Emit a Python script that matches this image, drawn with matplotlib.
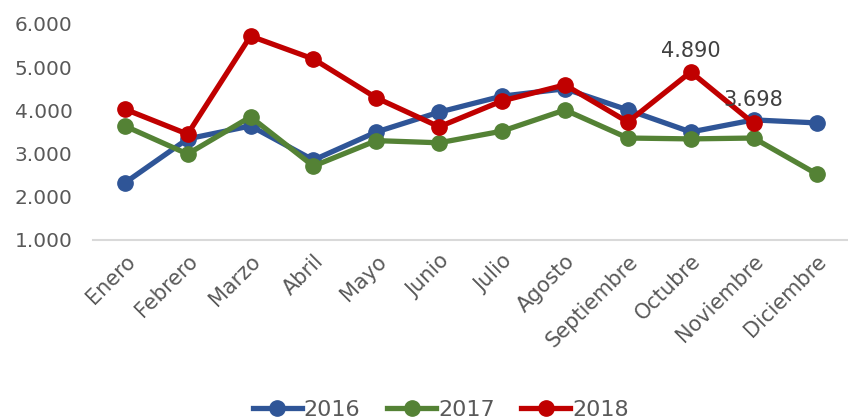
import numpy as np
import matplotlib
matplotlib.use('Agg')
import matplotlib.pyplot as plt
from matplotlib.ticker import FuncFormatter

# data
meses = ['Enero', 'Febrero', 'Marzo', 'Abril', 'Mayo', 'Junio', 'Julio',
         'Agosto', 'Septiembre', 'Octubre', 'Noviembre', 'Diciembre']
v2016 = [2320, 3340, 3640, 2850, 3500, 3960, 4330, 4500, 4010, 3500, 3780, 3710]
v2017 = [3640, 2990, 3850, 2710, 3300, 3250, 3520, 4010, 3360, 3340, 3360, 2530]
v2018 = [4030, 3450, 5720, 5190, 4290, 3620, 4220, 4590, 3730, 4890, 3698]

colores = {'2016': '#2F5597', '2017': '#548235', '2018': '#C00000'}
gris = '#595959'

plt.rcParams['font.family'] = ['DejaVu Sans']

fig = plt.figure(figsize=(8.48, 4.2), dpi=100)
ax = fig.add_axes([0.110, 0.4286, 0.890, 0.5143])

x = np.arange(len(meses))
for nombre, vals in [('2016', v2016), ('2017', v2017), ('2018', v2018)]:
    ax.plot(x[:len(vals)], vals, color=colores[nombre], lw=3.8,
            marker='o', markersize=11, label=nombre)

# data labels on the last two 2018 points
for i, dy in [(9, 8), (10, 10)]:
    ax.annotate(f'{v2018[i]:,}'.replace(',', '.'), (x[i], v2018[i]),
                xytext=(0, dy), textcoords='offset points',
                ha='center', va='bottom', fontsize=15, color='#404040')

ax.set_xlim(-0.5, len(meses) - 0.5)
ax.set_ylim(1000, 6000)
ax.set_yticks(np.arange(1000, 6001, 1000))
ax.yaxis.set_major_formatter(FuncFormatter(lambda v, p: f'{int(v):,}'.replace(',', '.')))
ax.set_xticks(x)
ax.set_xticklabels(meses, rotation=45, ha='right', rotation_mode='anchor')

ax.tick_params(axis='both', length=0, colors=gris)
ax.tick_params(axis='y', pad=15, labelsize=14.5)
ax.tick_params(axis='x', pad=8, labelsize=15)
for s in ['top', 'right', 'left']:
    ax.spines[s].set_visible(False)
ax.spines['bottom'].set_color('#D9D9D9')
ax.spines['bottom'].set_linewidth(1.5)

leg = fig.legend(loc='center', bbox_to_anchor=(0.52, 0.025), ncol=3, frameon=False,
                 fontsize=16, handlelength=2.2, columnspacing=1.2, handletextpad=0.1,
                 labelcolor=gris)

fig.savefig('out.png', dpi=100)
